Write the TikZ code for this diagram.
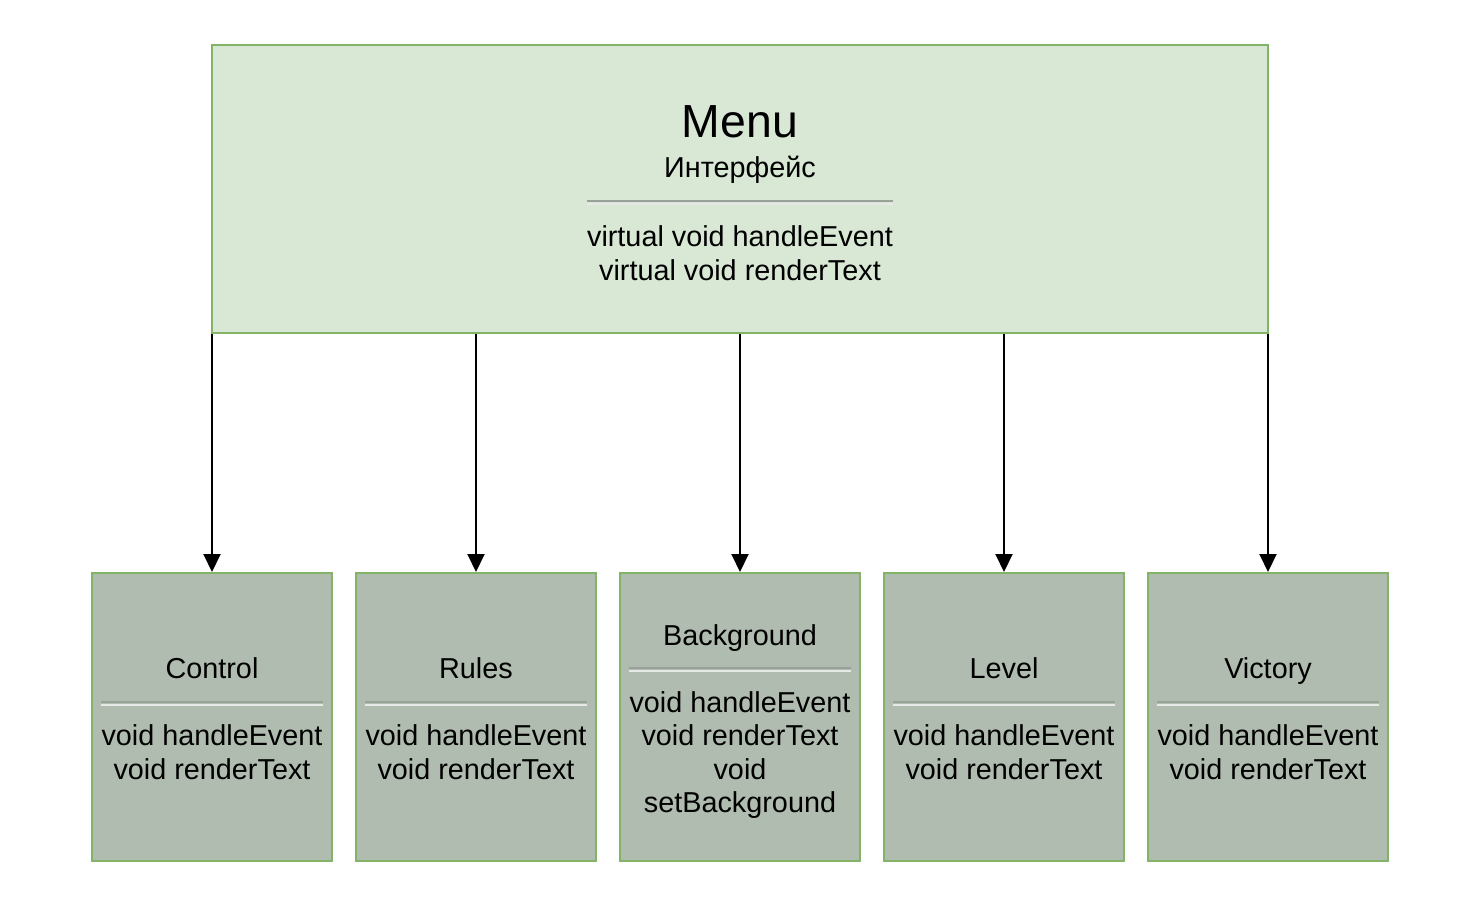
\documentclass[tikz,border=0pt]{standalone}
\usepackage{fontspec}
\setmainfont{Liberation Sans}
\usetikzlibrary{arrows.meta,positioning}
\definecolor{MenuFill}{HTML}{D9E7D5}
\definecolor{MenuBorder}{HTML}{82B366}
\definecolor{SubFill}{HTML}{B0BCAF}
\definecolor{RuleDark}{HTML}{9AA19A}
\definecolor{RuleLight}{HTML}{E6E8E6}
\tikzset{>={Triangle[length=9pt,width=8.5pt]},
 menubox/.style={draw=MenuBorder,fill=MenuFill,line width=1pt,minimum width=528pt,minimum height=144pt},
 subbox/.style={draw=MenuBorder,fill=SubFill,line width=1pt,minimum width=120pt,minimum height=144pt},
 txt/.style={font=\fontsize{14.4}{16.75}\selectfont,align=center,inner sep=0pt},
 ruledark/.style={RuleDark,line width=1pt},
 rulelight/.style={RuleLight,line width=1pt},
 link/.style={->,line width=1pt}}
\begin{document}
\begin{tikzpicture}[x=0.5pt,y=-0.5pt]
\useasboundingbox (0,0) rectangle (1480,900);
\node[menubox] (menu) at (740,189) {};
\node[txt,font=\fontsize{23.2}{26}\selectfont,anchor=base] (menuname) at (740,137) {Menu};
\node[txt,anchor=base] (menukind) at (740,177) {Интерфейс};
\node[txt] (menuops) at (740,253) {virtual void handleEvent\\virtual void renderText};
\draw[ruledark] (menuops.west |- 0,201) -- (menuops.east |- 0,201);
\draw[rulelight] (menuops.west |- 0,204) -- (menuops.east |- 0,204);
\foreach \nm/\x/\ttl/\ty/\ry/\oy/\ops in {%
 ctl/212/Control/678/702/752/{void handleEvent\\void renderText},
 rul/476/Rules/678/702/752/{void handleEvent\\void renderText},
 bkg/740/Background/645/668/755/{void handleEvent\\void renderText\\void\\setBackground},
 lvl/1004/Level/678/702/752/{void handleEvent\\void renderText},
 vic/1268/Victory/678/702/752/{void handleEvent\\void renderText}}
{\node[subbox] (\nm) at (\x,717) {};
 \node[txt,anchor=base] (\nm name) at (\x,\ty) {\ttl};
 \node[txt] (\nm ops) at (\x,\oy) {\ops};
 \draw[ruledark] (\nm ops.west |- 0,\ry) -- (\nm ops.east |- 0,\ry);
 \draw[rulelight] (\nm ops.west |- 0,\ry+3) -- (\nm ops.east |- 0,\ry+3);
 \draw[link] (menu.south -| \nm) -- (\nm.north);}
\end{tikzpicture}
\end{document}
